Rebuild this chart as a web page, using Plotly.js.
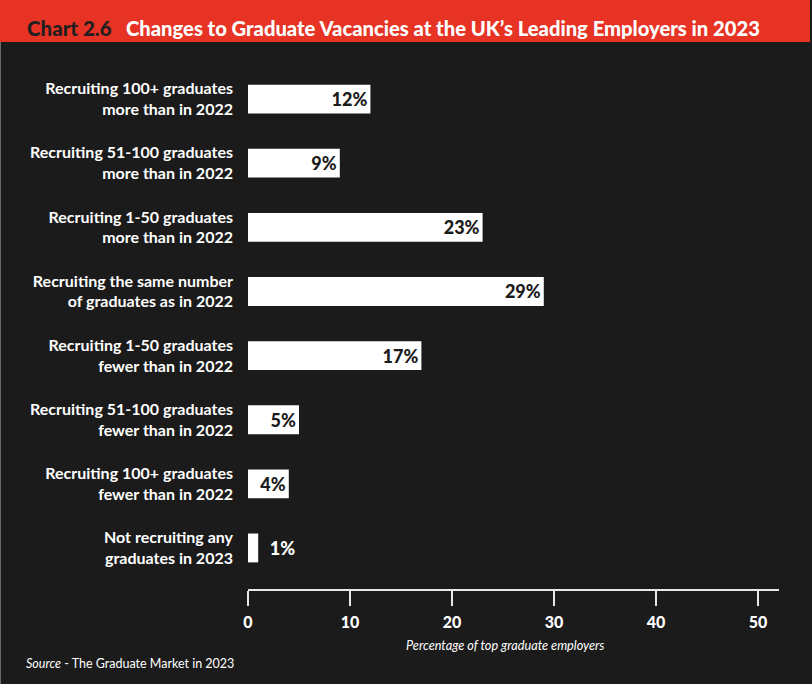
<!DOCTYPE html>
<html>
<head>
<meta charset="utf-8">
<script src="https://cdn.plot.ly/plotly-3.0.1.min.js"></script>
<style>html,body{margin:0;padding:0;background:#1b1b1b;}</style>
</head>
<body>
<div id="chart" style="width:812px;height:684px;"></div>
<script>
const categories = [
  "Recruiting 100+ graduates<br>more than in 2022",
  "Recruiting 51-100 graduates<br>more than in 2022",
  "Recruiting 1-50 graduates<br>more than in 2022",
  "Recruiting the same number<br>of graduates as in 2022",
  "Recruiting 1-50 graduates<br>fewer than in 2022",
  "Recruiting 51-100 graduates<br>fewer than in 2022",
  "Recruiting 100+ graduates<br>fewer than in 2022",
  "Not recruiting any<br>graduates in 2023"
];
const values = [12, 9, 23, 29, 17, 5, 4, 1];
const tickVals = [0, 10, 20, 30, 40, 50];
const titleLabel = "Chart 2.6";
const titleText = "Changes to Graduate Vacancies at the UK’s Leading Employers in 2023";
const xTitle = "Percentage of top graduate employers";

const FONT = "Lato, 'Open Sans', sans-serif";
const positions = values.map(v => v >= 3 ? "inside" : "outside");
const labels = values.map((v, i) => (positions[i] === "outside" ? "\u00a0\u00a0" : "") + v + "%");

const trace = {
  type: "bar",
  orientation: "h",
  y: categories,
  x: values,
  width: 0.45,
  marker: {color: "#ffffff", line: {width: 0}},
  text: labels,
  textposition: positions,
  insidetextanchor: "end",
  insidetextfont: {family: FONT, size: 18, color: "#1b1b1b", weight: 900},
  outsidetextfont: {family: FONT, size: 18, color: "#ffffff", weight: 900},
  textangle: 0,
  cliponaxis: false,
  hoverinfo: "skip"
};

const px = p => (p - 248) / 531;
const py = p => (589 - p) / 522;

const layout = {
  width: 812, height: 684,
  margin: {l: 248, r: 33, t: 67, b: 95},
  paper_bgcolor: "#1b1b1b",
  plot_bgcolor: "#1b1b1b",
  font: {family: FONT, color: "#ffffff"},
  showlegend: false,
  xaxis: {
    range: [0, 52.06],
    tickvals: tickVals,
    ticktext: tickVals.map(String),
    showgrid: false, zeroline: false,
    showline: true, linecolor: "#e8e8e8", linewidth: 2,
    ticks: "outside", ticklen: 15, tickwidth: 2, tickcolor: "#e8e8e8",
    ticklabelstandoff: 3,
    tickfont: {family: FONT, size: 16, color: "#ffffff", weight: 900},
    fixedrange: true
  },
  yaxis: {
    range: [7.64, -0.5],
    type: "category",
    showgrid: false, zeroline: false, showline: false,
    ticks: "", ticklabelstandoff: 14,
    tickfont: {family: FONT, size: 16, color: "#ffffff", weight: 700},
    fixedrange: true
  },
  shapes: [
    {type: "rect", xref: "paper", yref: "paper",
     x0: px(0), x1: px(810), y0: py(42), y1: py(0),
     fillcolor: "#e63324", line: {width: 0}, layer: "below"},
    {type: "line", xref: "paper", yref: "paper",
     x0: px(0.5), x1: px(0.5), y0: py(684), y1: py(42),
     line: {color: "#6a6a6a", width: 1}}
  ],
  annotations: [
    {xref: "paper", yref: "paper", x: px(25), y: py(28), xanchor: "left", yanchor: "middle",
     text: titleLabel, showarrow: false,
     font: {family: FONT, size: 20.5, color: "#231f20", weight: 900}},
    {xref: "paper", yref: "paper", x: px(124), y: py(28), xanchor: "left", yanchor: "middle",
     text: titleText, showarrow: false,
     font: {family: FONT, size: 20.2, color: "#ffffff", weight: 900}},
    {xref: "paper", yref: "paper", x: px(505), y: py(645), xanchor: "center", yanchor: "middle",
     text: "<i>" + xTitle + "</i>", showarrow: false,
     font: {family: FONT, size: 12.7, color: "#ffffff"}},
    {xref: "paper", yref: "paper", x: px(24), y: py(663), xanchor: "left", yanchor: "middle",
     text: "<i>Source</i> - The Graduate Market in 2023", showarrow: false,
     font: {family: FONT, size: 12.5, color: "#ffffff"}}
  ]
};

Plotly.newPlot("chart", [trace], layout, {displayModeBar: false, staticPlot: true});
</script>
</body>
</html>
